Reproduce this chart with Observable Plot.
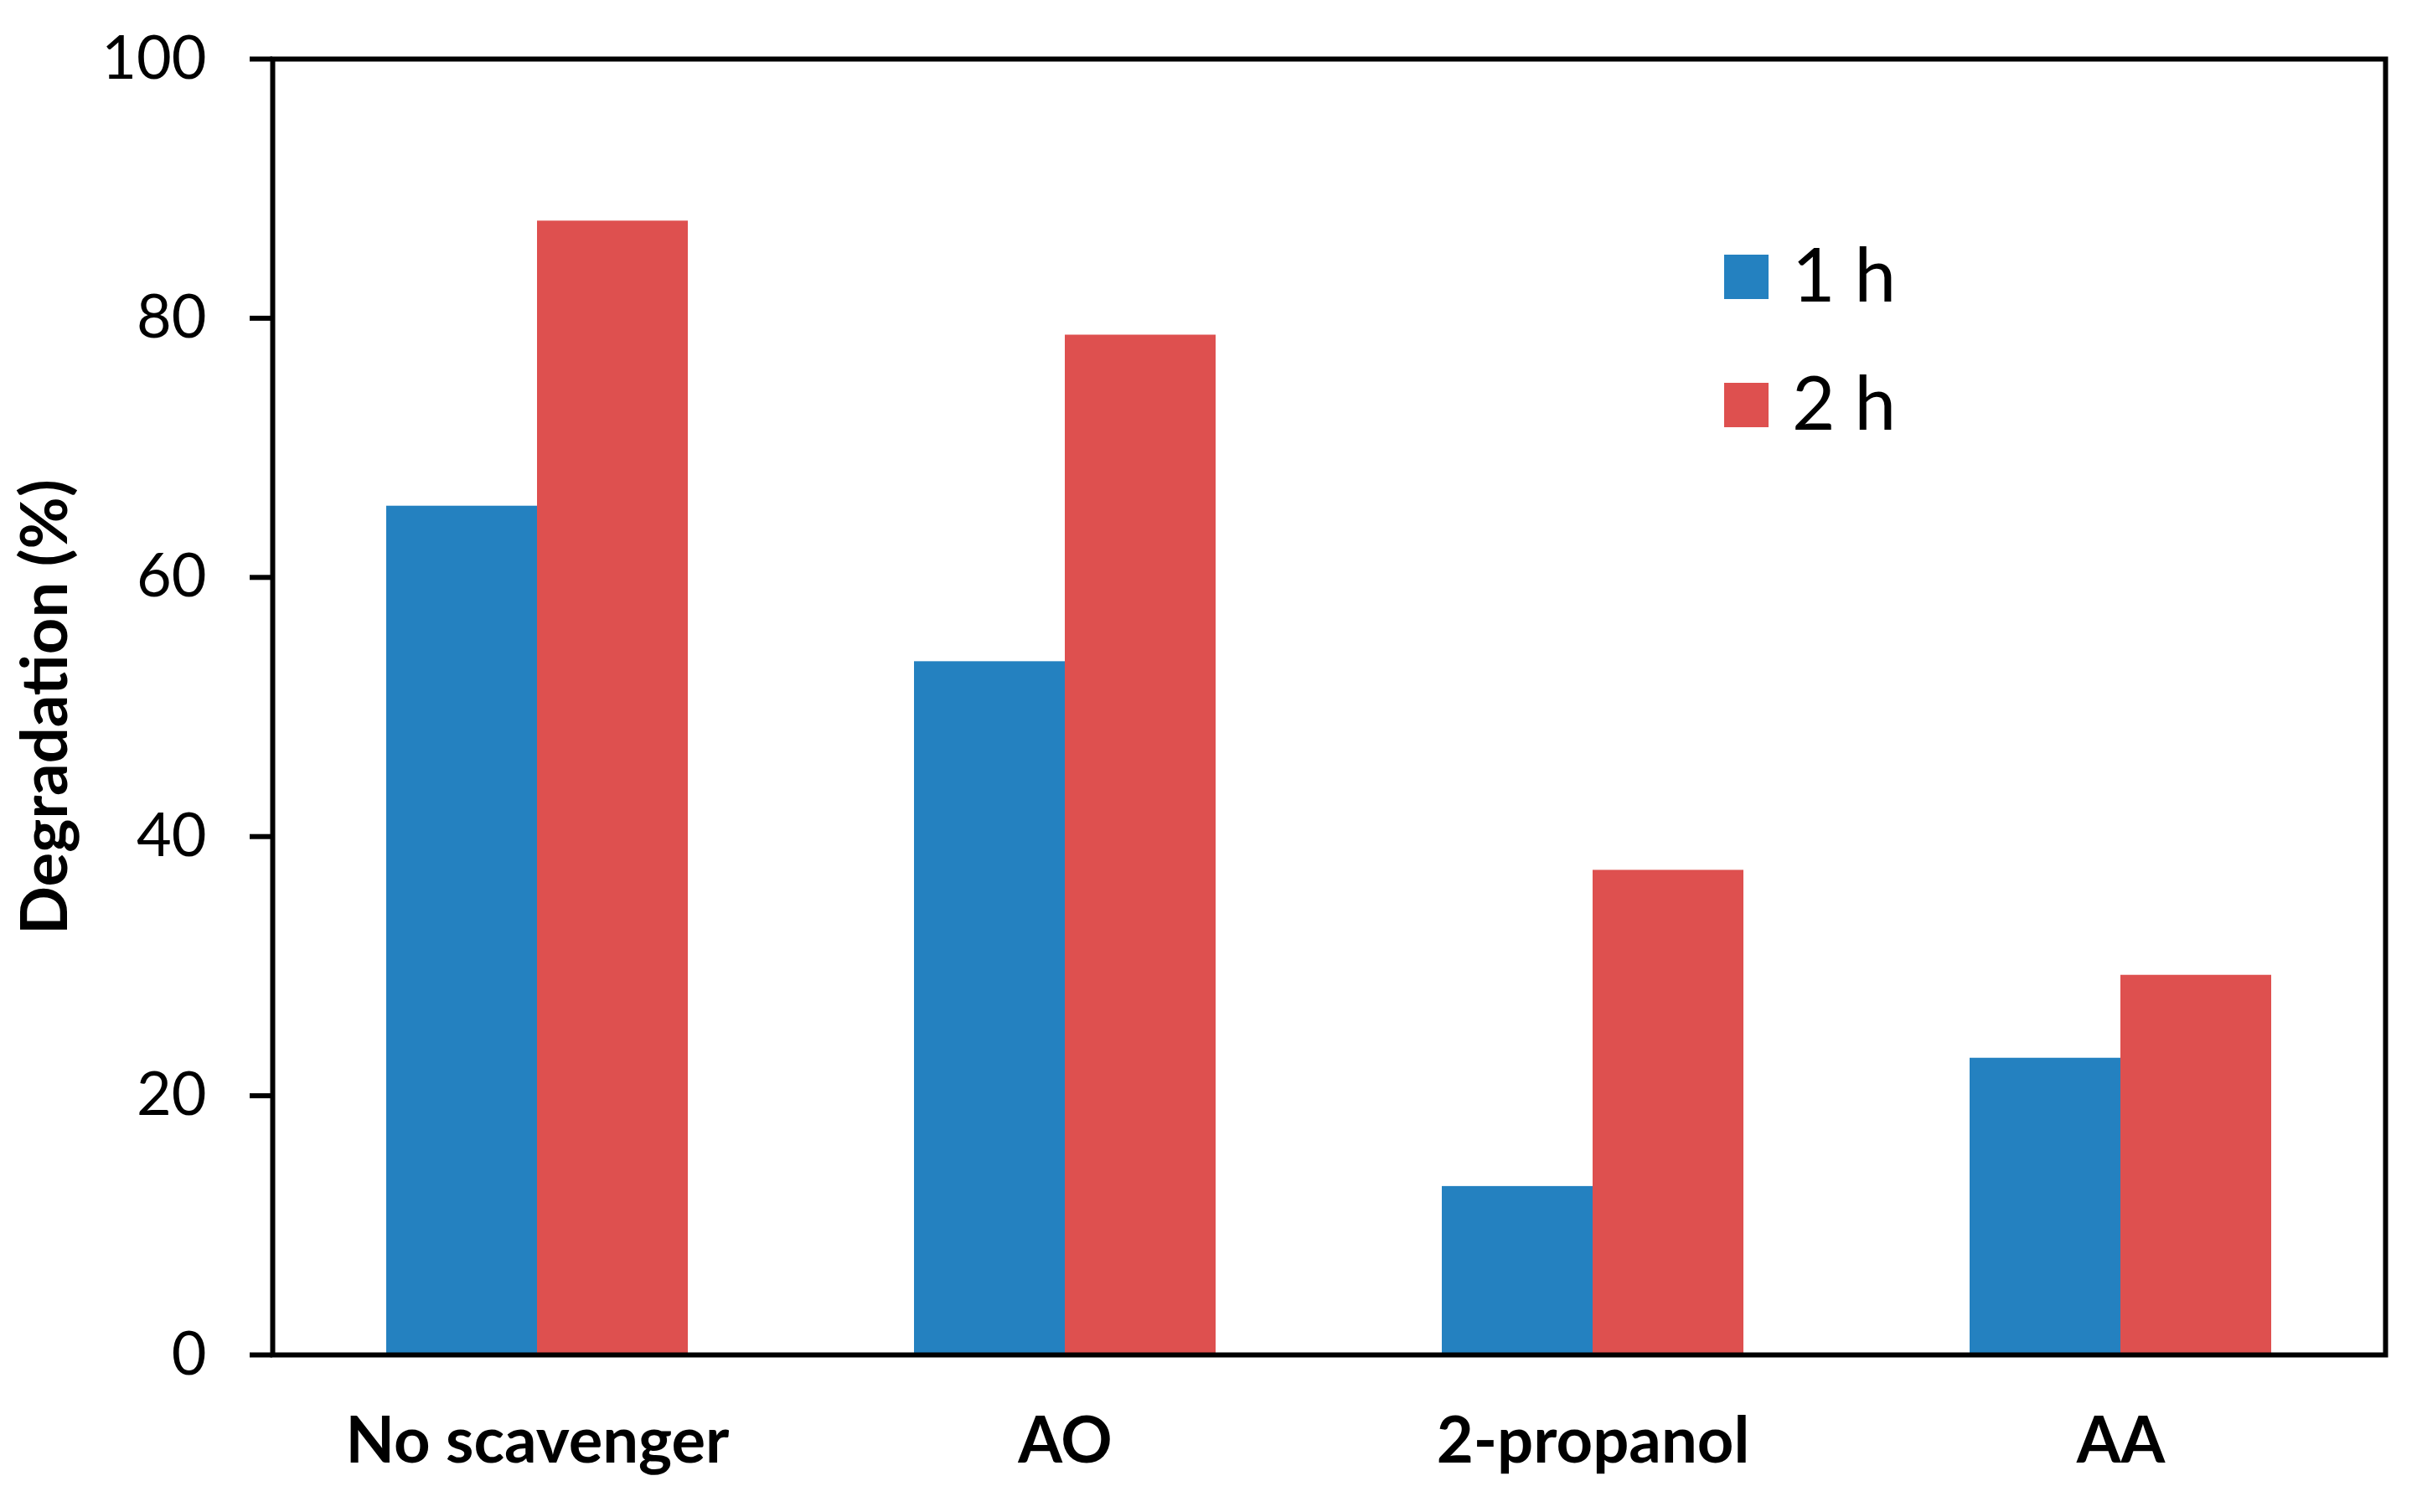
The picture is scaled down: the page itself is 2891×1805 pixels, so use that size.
<!DOCTYPE html>
<html><head><meta charset="utf-8">
<script src="https://cdn.jsdelivr.net/npm/d3@7"></script>
<script src="https://cdn.jsdelivr.net/npm/@observablehq/plot@0.6"></script>
<style>
html,body{margin:0;padding:0;background:#fff;}
#wrap{position:relative;width:2891px;height:1805px;overflow:hidden;}
#legend{position:absolute;left:2058px;top:249px;}
#legend .lg-swatch{height:153px;padding:0 !important;margin:0 !important;display:flex;align-items:center;}
#legend .lg-swatch svg{margin-right:28px !important;margin-top:10px !important;}
#legend div, #legend span{font-family:Lato, sans-serif !important;font-size:89px !important;color:#000 !important;overflow:visible !important;}
</style></head><body><div id="wrap"></div>
<script>
const categories = ["No scavenger", "AO", "2-propanol", "AA"];
const series = ["1 h", "2 h"];
const values1h = [65.5, 53.5, 13.0, 22.9];
const values2h = [87.5, 78.7, 37.4, 29.3];
const colors = ["#2481c0", "#de504f"];
const yTicks = [0, 20, 40, 60, 80, 100];
const yLabel = "Degradation (%)";

const rows1 = categories.map((c, i) => ({category: c, series: series[0], value: values1h[i]}));
const rows2 = categories.map((c, i) => ({category: c, series: series[1], value: values2h[i]}));

const chart = Plot.plot({
  width: 2891, height: 1805,
  marginLeft: 325, marginRight: 44, marginTop: 70, marginBottom: 188,
  style: {fontFamily: "Lato, sans-serif", background: "#fff", color: "#000"},
  x: {domain: categories, padding: 0},
  y: {domain: [0, 100]},
  color: {domain: series, range: colors},
  marks: [
    Plot.barY(rows1, {x: "category", y: "value", fill: "series", insetLeft: 135, insetRight: 315}),
    Plot.barY(rows2, {x: "category", y: "value", fill: "series", insetLeft: 315, insetRight: 135}),
    Plot.frame({stroke: "#000", strokeWidth: 6}),
    Plot.axisY({ticks: yTicks, tickSize: 27, tickPadding: 52, strokeWidth: 6, fontSize: 72, label: null}),
    Plot.axisX({tickSize: 0, tickPadding: 75, fontSize: 76, fontWeight: "bold", label: null}),
    Plot.text([yLabel], {frameAnchor: "left", textAnchor: "middle", rotate: -90, dx: -270, fontSize: 76, fontWeight: "bold"})
  ]
});

const wrap = document.getElementById("wrap");
wrap.appendChild(chart);

const legend = Plot.legend({
  color: {domain: series, range: colors},
  legend: "swatches",
  columns: 1,
  swatchSize: 53,
  className: "lg",
  style: {fontFamily: "Lato, sans-serif", fontSize: "89px", color: "#000"}
});
const lw = document.createElement("div");
lw.id = "legend";
lw.appendChild(legend);
wrap.appendChild(lw);
</script>
</body></html>
